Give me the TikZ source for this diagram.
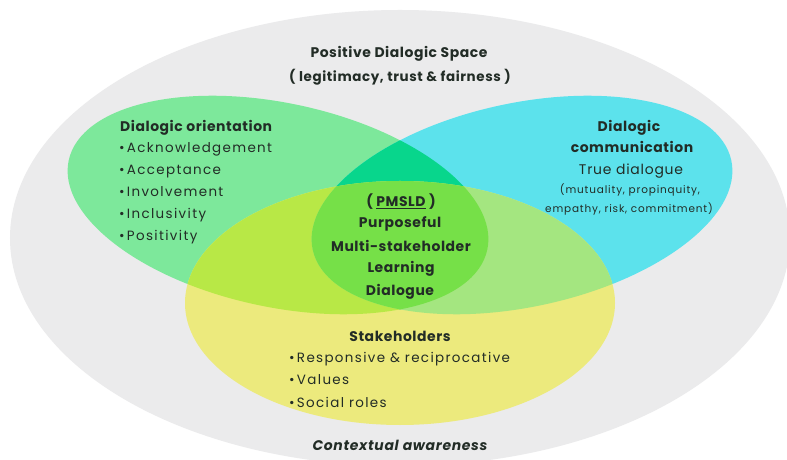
\documentclass[tikz,border=0pt]{standalone}
\usepackage{fontspec}
\setmainfont{Poppins}

\definecolor{spacegray}{RGB}{235,235,236}
\definecolor{orientgreen}{RGB}{125,232,155}
\definecolor{commcyan}{RGB}{92,226,236}
\definecolor{stakeyellow}{RGB}{236,234,125}
\definecolor{gcmix}{RGB}{8,214,140}
\definecolor{gymix}{RGB}{184,232,70}
\definecolor{cymix}{RGB}{164,230,128}
\definecolor{allmix}{RGB}{118,224,72}
\definecolor{ink}{RGB}{34,44,38}

% the three Venn ellipses (image-style coordinates, y grows downwards)
\newcommand\orientEllipse[1]{\path[#1,rotate around={-12:(278,205)}] (278,205) ellipse [x radius=214bp, y radius=102bp];}
\newcommand\commEllipse[1]{\path[#1,rotate around={12:(522,205)}] (522,205) ellipse [x radius=214bp, y radius=102bp];}
\newcommand\stakeEllipse[1]{\path[#1] (400,303) ellipse [x radius=215bp, y radius=122bp];}

\begin{document}
\begin{tikzpicture}[x=1bp,y=-1bp,
  txt/.style={inner sep=0pt, text=ink},
  head/.style={txt, font=\fontsize{14}{16}\selectfont\bfseries\addfontfeatures{LetterSpace=4}},
  item/.style={txt, font=\fontsize{13.5}{16}\selectfont\addfontfeatures{LetterSpace=10}},
  small/.style={txt, font=\fontsize{10.5}{12}\selectfont\addfontfeatures{LetterSpace=8}}]
\useasboundingbox (0,0) rectangle (787,460);
\fill[white] (0,0) rectangle (787,460);

% outer space
\fill[spacegray] (400,238) ellipse [x radius=390bp, y radius=228bp];

% single regions
\orientEllipse{fill=orientgreen}
\commEllipse{fill=commcyan}
\stakeEllipse{fill=stakeyellow}

% pairwise overlaps
\begin{scope}\orientEllipse{clip}\commEllipse{fill=gcmix}\end{scope}
\begin{scope}\orientEllipse{clip}\stakeEllipse{fill=gymix}\end{scope}
\begin{scope}\commEllipse{clip}\stakeEllipse{fill=cymix}\end{scope}
% triple overlap
\begin{scope}\orientEllipse{clip}\commEllipse{clip}\stakeEllipse{fill=allmix}\end{scope}

% outer labels
\node[head, anchor=base] (space) at (399,58) {Positive Dialogic Space};
\node[txt, anchor=base, font=\fontsize{13.5}{16}\selectfont\bfseries\addfontfeatures{LetterSpace=4.5}] (spacesub) at (400,82) {( legitimacy, trust \& fairness )};

% dialogic orientation
\node[head, anchor=base west] (orient) at (120,132) {Dialogic orientation};
\node[item, anchor=base west] (o1) at (119,153) {•\,Acknowledgement};
\node[item, anchor=base west] (o2) at (119,175) {•\,Acceptance};
\node[item, anchor=base west] (o3) at (119,197) {•\,Involvement};
\node[item, anchor=base west] (o4) at (119,219) {•\,Inclusivity};
\node[item, anchor=base west] (o5) at (119,241) {•\,Positivity};

% dialogic communication
\node[head, anchor=base] (comm1) at (629,132) {Dialogic};
\node[head, anchor=base] (comm2) at (632,153) {communication};
\node[txt, anchor=base, font=\fontsize{14}{16}\selectfont\addfontfeatures{LetterSpace=5.5}] (comm3) at (631,175) {True dialogue};
\node[small, anchor=base] (comm4) at (630,194) {(mutuality, propinquity,};
\node[small, anchor=base] (comm5) at (629,213) {empathy, risk, commitment)};

% centre
\node[head, anchor=base] (c0) at (401,207) {( \underline{PMSLD} )};
\node[head, anchor=base] (c1) at (400,228) {Purposeful};
\node[head, anchor=base] (c2) at (401,252) {Multi-stakeholder};
\node[head, anchor=base] (c3) at (401,273) {Learning};
\node[head, anchor=base] (c4) at (400,296) {Dialogue};

% stakeholders
\node[head, anchor=base] (stake) at (400,342) {Stakeholders};
\node[item, anchor=base west] (s1) at (289,363) {•\,Responsive \& reciprocative};
\node[item, anchor=base west] (s2) at (289,385) {•\,Values};
\node[item, anchor=base west] (s3) at (289,407) {•\,Social roles};

\node[txt, anchor=base, font=\fontsize{14}{16}\selectfont\bfseries\itshape\addfontfeatures{LetterSpace=5}] (context) at (400,450) {Contextual awareness};
\end{tikzpicture}
\end{document}
